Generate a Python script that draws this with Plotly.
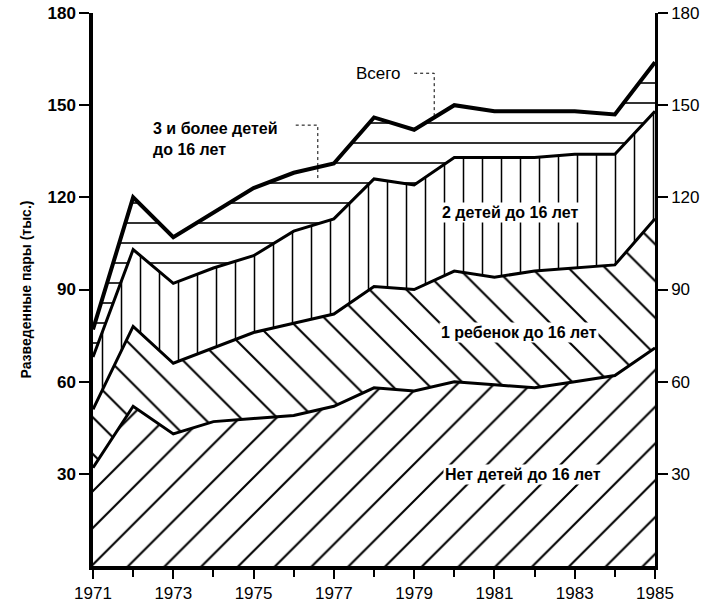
import plotly.graph_objects as go

years = list(range(1971, 1986))
no_children = [32, 52, 43, 47, 48, 49, 52, 58, 57, 60, 59, 58, 60, 62, 71]
one_child = [19, 26, 23, 24, 28, 30, 30, 33, 33, 36, 35, 38, 37, 36, 42]
two_children = [17, 25, 26, 26, 25, 30, 31, 35, 34, 37, 39, 37, 37, 36, 35]
three_plus = [9, 17, 15, 18, 22, 19, 18, 20, 18, 17, 15, 15, 14, 13, 16]

y_ticks = [30, 60, 90, 120, 150, 180]
x_ticks = [1971, 1973, 1975, 1977, 1979, 1981, 1983, 1985]

fig = go.Figure()

layers = [
    ("Нет детей до 16 лет", no_children, "/", 26, 3),
    ("1 ребенок до 16 лет", one_child, "\\", 26, 3),
    ("2 детей до 16 лет", two_children, "|", 19, 3),
    ("3 и более детей до 16 лет", three_plus, "-", 20, 4),
]
for name, vals, shape, size, lw in layers:
    fig.add_trace(go.Scatter(
        x=years, y=vals, name=name, mode="lines", stackgroup="one",
        line=dict(color="black", width=lw),
        fillpattern=dict(shape=shape, fgcolor="black", bgcolor="white",
                         size=size, solidity=0.08, fillmode="replace"),
        hoverinfo="skip", showlegend=False,
    ))

# invisible trace on right axis so it renders
fig.add_trace(go.Scatter(x=[years[0]], y=[0], yaxis="y2", mode="markers",
                         marker=dict(opacity=0), showlegend=False, hoverinfo="skip"))

font_fam = "Liberation Sans, Arial, sans-serif"

fig.update_layout(
    width=704, height=604, autosize=False,
    margin=dict(l=93, r=49, t=13, b=38, autoexpand=False),
    paper_bgcolor="white", plot_bgcolor="white",
    font=dict(family=font_fam, color="black"),
    xaxis=dict(range=[1971, 1985], tickvals=x_ticks, ticktext=[str(v) for v in x_ticks],
               ticks="outside", ticklen=9, tickwidth=2, tickcolor="black",
               minor=dict(dtick=1, tick0=1971, ticks="outside", ticklen=7, tickwidth=1.5, tickcolor="black"),
               showline=True, linecolor="black", linewidth=3.5, showgrid=False, zeroline=False,
               automargin=False,
               tickfont=dict(size=17, family=font_fam)),
    yaxis=dict(range=[0, 180], tickvals=y_ticks, ticks="outside", ticklen=10, tickwidth=1.5,
               tickcolor="black", showline=True, linecolor="black", linewidth=3.5,
               showgrid=False, zeroline=False, automargin=False,
               tickfont=dict(size=17, family=font_fam, weight="bold")),
    yaxis2=dict(range=[0, 180], tickvals=y_ticks, overlaying="y", side="right",
                ticks="outside", ticklen=10, tickwidth=1.5, tickcolor="black",
                showline=True, linecolor="black", linewidth=2.5,
                showgrid=False, zeroline=False, automargin=False,
                tickfont=dict(size=17, family=font_fam)),
)

ann_font = dict(size=16, family=font_fam, color="black", weight="bold")
fig.add_annotation(x=1978.1, y=160.4, text="Всего", showarrow=False,
                   font=dict(size=17, family=font_fam, color="black"))
fig.add_annotation(x=1974.05, y=139, text="3 и более детей<br>до 16 лет", showarrow=False,
                   align="left", font=ann_font)
fig.add_annotation(x=1981.4, y=115, text="2 детей до 16 лет", showarrow=False,
                   font=ann_font, bgcolor="white")
fig.add_annotation(x=1981.6, y=76, text="1 ребенок до 16 лет", showarrow=False,
                   font=ann_font, bgcolor="white")
fig.add_annotation(x=1981.7, y=29.7, text="Нет детей до 16 лет", showarrow=False,
                   font=ann_font, bgcolor="white")

# leader lines
fig.add_shape(type="path", path="M 1979.0 160.4 L 1979.5 160.4 L 1979.5 146.5",
              xref="x", yref="y", line=dict(color="black", width=1, dash="dot"))
fig.add_shape(type="path", path="M 1976.05 143.5 L 1976.6 143.5 L 1976.6 126",
              xref="x", yref="y", line=dict(color="black", width=1, dash="dot"))

fig.add_annotation(xref="paper", yref="paper", x=0, y=0.5, xshift=-78,
                   text="Разведенные пары (тыс.)", textangle=-90, showarrow=False,
                   font=dict(size=14, family=font_fam, color="black", weight="bold"))

fig.write_html("out.html")
